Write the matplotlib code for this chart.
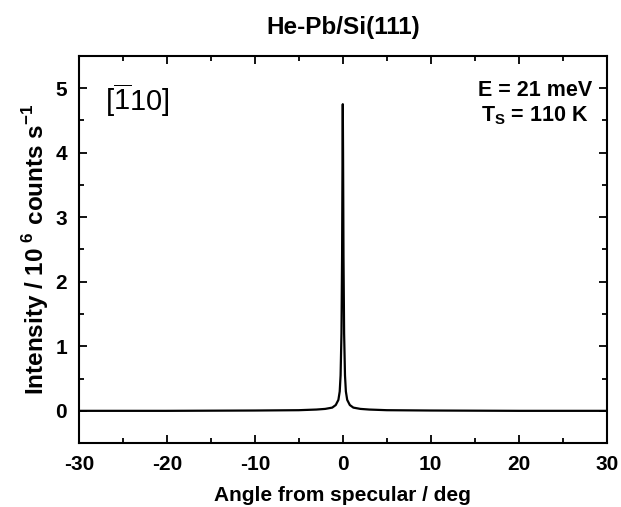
import numpy as np
import matplotlib
matplotlib.use('Agg')
from matplotlib import pyplot as plt
from matplotlib.ticker import MultipleLocator

plt.rcParams['font.family'] = ['Liberation Sans', 'DejaVu Sans']
plt.rcParams['mathtext.fontset'] = 'custom'
plt.rcParams['mathtext.rm'] = 'Liberation Sans'
plt.rcParams['mathtext.bf'] = 'Liberation Sans:bold'
plt.rcParams['axes.unicode_minus'] = False

# 角度 (deg) 与强度 (10^6 counts/s)
angle = [-30, -20, -10, -5, -3, -2, -1.2, -0.8, -0.5, -0.35, -0.25, -0.15, -0.08, -0.03, 0,
         0.03, 0.08, 0.15, 0.25, 0.35, 0.5, 0.8, 1.2, 2, 3, 5, 10, 20, 30]
intensity = [0.0, 0.0, 0.005, 0.01, 0.02, 0.03, 0.05, 0.09, 0.17, 0.3, 0.55, 1.2, 2.4, 4.0, 4.75,
             4.0, 2.4, 1.2, 0.55, 0.3, 0.17, 0.09, 0.05, 0.03, 0.02, 0.01, 0.005, 0.0, 0.0]

fig = plt.figure(figsize=(6.21, 5.07), dpi=100)
ax = fig.add_axes([0.127, 0.126, 0.850, 0.764])
ax.plot(angle, intensity, color='black', lw=1.6)

ax.set_xlim(-30, 30)
ax.set_ylim(-0.5, 5.5)
ax.xaxis.set_major_locator(MultipleLocator(10))
ax.xaxis.set_minor_locator(MultipleLocator(5))
ax.yaxis.set_major_locator(MultipleLocator(1))
ax.yaxis.set_minor_locator(MultipleLocator(0.5))
ax.tick_params(which='both', direction='in', top=True, right=True, width=1.3)
ax.tick_params(which='major', length=6, labelsize=15, pad=8.5)
ax.tick_params(which='minor', length=3.5)
for lab in ax.get_xticklabels() + ax.get_yticklabels():
    lab.set_fontweight('bold')
for sp in ax.spines.values():
    sp.set_linewidth(1.5)

ax.set_xlabel('Angle from specular / deg', fontsize=15, fontweight='bold', labelpad=9)
ax.set_ylabel(r'Intensity / 10$^{\mathbf{\ 6}}$$\ $counts s$^{\mathbf{-1}}$', fontsize=17.5,
              fontweight='bold', labelpad=3)
ax.set_title('He-Pb/Si(111)', fontsize=17.5, fontweight='bold', pad=16)

ax.text(0.05, 0.886, r'[$\overline{\mathrm{1}}$10]', transform=ax.transAxes, fontsize=21,
        va='center', ha='left')
ax.text(0.973, 0.91, 'E = 21 meV', transform=ax.transAxes, fontsize=15.5,
        fontweight='bold', ha='right', va='center')
ax.text(0.966, 0.845, r'T$_{\mathbf{S}}$ = 110 K', transform=ax.transAxes, fontsize=15.5,
        fontweight='bold', ha='right', va='center')

plt.savefig('out.png', dpi=100)
